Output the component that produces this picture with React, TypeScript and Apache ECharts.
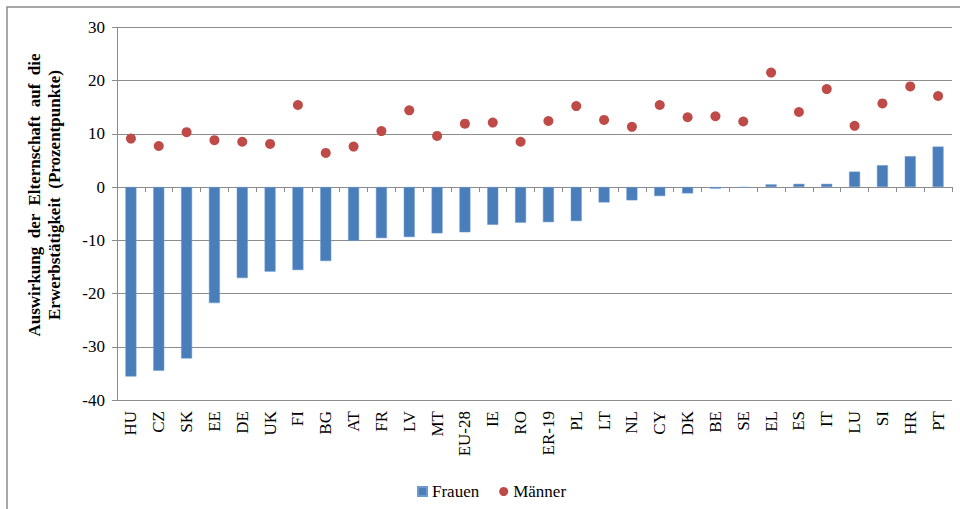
import React, { useEffect, useRef } from "react";
import * as echarts from "echarts";

const categories = ["HU","CZ","SK","EE","DE","UK","FI","BG","AT","FR","LV","MT","EU-28","IE","RO","ER-19","PL","LT","NL","CY","DK","BE","SE","EL","ES","IT","LU","SI","HR","PT"];
const frauen = [-35.6,-34.5,-32.2,-21.8,-17.1,-15.9,-15.6,-13.9,-10.1,-9.6,-9.4,-8.7,-8.5,-7.1,-6.7,-6.6,-6.4,-2.9,-2.5,-1.7,-1.2,-0.3,-0.1,0.5,0.6,0.6,2.9,4.1,5.8,7.6];
const maenner = [9.1,7.7,10.3,8.8,8.5,8.1,15.4,6.4,7.6,10.5,14.4,9.6,11.9,12.1,8.5,12.4,15.2,12.6,11.3,15.4,13.1,13.3,12.3,21.5,14.1,18.4,11.5,15.7,18.9,17.1];
const yTicks = { min: -40, max: 30, interval: 10 };

const FONT = "'Liberation Serif', 'Times New Roman', serif";
const GRAY = "#8c8c8c";

export default function App() {
  const ref = useRef<HTMLDivElement>(null);
  useEffect(() => {
    if (!ref.current) return;
    const chart = echarts.init(ref.current, null, { renderer: "svg" });
    chart.setOption({
      animation: false,
      backgroundColor: "#ffffff",
      textStyle: { fontFamily: FONT },
      grid: { left: 117, right: 8, top: 27.3, bottom: 109, containLabel: false },
      legend: {
        left: 412,
        top: 478,
        itemWidth: 9,
        itemHeight: 9,
        itemGap: 20,
        textStyle: { fontFamily: FONT, fontSize: 17, color: "#000" },
        data: [
          { name: "Frauen", icon: "rect" },
          { name: "Männer", icon: "circle" },
        ],
      },
      xAxis: [
        {
          type: "category",
          data: categories,
          position: "bottom",
          axisLine: { show: false, onZero: false },
          axisTick: { show: false },
          axisLabel: {
            rotate: 90,
            margin: 11,
            interval: 0,
            fontFamily: FONT,
            fontSize: 17,
            color: "#000",
          },
        },
        {
          type: "category",
          data: categories,
          position: "bottom",
          axisLine: { show: true, onZero: true, lineStyle: { color: GRAY, width: 1 } },
          axisTick: { show: true, length: 5, interval: 0, lineStyle: { color: GRAY } },
          axisLabel: { show: false },
        },
      ],
      yAxis: {
        type: "value",
        min: yTicks.min,
        max: yTicks.max,
        interval: yTicks.interval,
        axisLine: { show: true, lineStyle: { color: GRAY } },
        axisTick: { show: true, length: 5, lineStyle: { color: GRAY } },
        axisLabel: { margin: 12, fontFamily: FONT, fontSize: 17, color: "#000" },
        splitLine: { show: true, lineStyle: { color: GRAY, width: 1 } },
      },
      graphic: [
        {
          type: "rect",
          shape: { x: 7, y: 7, width: 1200, height: 800 },
          style: { fill: "none", stroke: "#8a8a8a", lineWidth: 1.5 },
          silent: true,
        },
        {
          type: "text",
          x: 44,
          y: 195,
          rotation: Math.PI / 2,
          style: {
            text: "Auswirkung  der  Elternschaft  auf  die\nErwerbstätigkeit  (Prozentpunkte)",
            font: "bold 17px " + FONT,
            fill: "#000",
            align: "center",
            verticalAlign: "middle",
            lineHeight: 20,
          },
        },
      ],
      series: [
        {
          name: "Frauen",
          type: "bar",
          xAxisIndex: 0,
          data: frauen,
          barWidth: 11,
          itemStyle: { color: "#4a7ebb", borderColor: "#6f9ad0", borderWidth: 0.5 },
        },
        {
          name: "Männer",
          type: "scatter",
          xAxisIndex: 0,
          data: maenner,
          symbol: "circle",
          symbolSize: 10,
          itemStyle: { color: "#be4b48", opacity: 1 },
        },
      ],
    });
    return () => chart.dispose();
  }, []);
  return (
    <div
      ref={ref}
      style={{ position: "fixed", left: 0, top: 0, width: 960, height: 509 }}
    />
  );
}
